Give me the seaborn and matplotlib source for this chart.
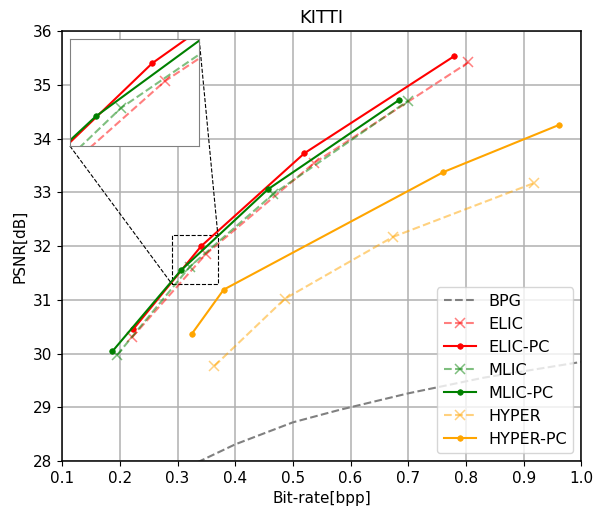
import matplotlib
matplotlib.use("Agg")
import matplotlib.pyplot as plt
import seaborn as sns
from mpl_toolkits.axes_grid1.inset_locator import mark_inset

# Rate-distortion results on KITTI (bpp, PSNR in dB)
bpg_bpp = [0.30, 0.40, 0.50, 0.58, 0.70, 0.83, 1.02]
bpg_psnr = [27.80, 28.31, 28.72, 28.95, 29.26, 29.55, 29.88]

elic_bpp = [0.221, 0.349, 0.537, 0.804]
elic_psnr = [30.30, 31.85, 33.55, 35.42]

elic_pc_bpp = [0.223, 0.341, 0.520, 0.780]
elic_pc_psnr = [30.45, 32.00, 33.73, 35.54]

mlic_bpp = [0.195, 0.3215, 0.466, 0.700]
mlic_psnr = [29.97, 31.62, 32.97, 34.71]

mlic_pc_bpp = [0.187, 0.306, 0.457, 0.684]
mlic_pc_psnr = [30.04, 31.55, 33.06, 34.72]

hyper_bpp = [0.364, 0.486, 0.673, 0.918]
hyper_psnr = [29.77, 31.02, 32.17, 33.175]

hyper_pc_bpp = [0.325, 0.380, 0.761, 0.962]
hyper_pc_psnr = [30.37, 31.19, 33.38, 34.26]

x_ticks = [0.1, 0.2, 0.3, 0.4, 0.5, 0.6, 0.7, 0.8, 0.9, 1.0]
y_ticks = [28, 29, 30, 31, 32, 33, 34, 35, 36]


def cross(c):
    return dict(color=c, linestyle="--", marker="x", markersize=7,
                markeredgecolor=c, markeredgewidth=1.1, alpha=0.5)


def dot(c):
    return dict(color=c, linestyle="-", marker="o", markersize=4,
                markeredgecolor=c, markeredgewidth=0.5)


series = [
    ("BPG", bpg_bpp, bpg_psnr, dict(color="gray", linestyle="--")),
    ("ELIC", elic_bpp, elic_psnr, cross("red")),
    ("ELIC-PC", elic_pc_bpp, elic_pc_psnr, dot("red")),
    ("MLIC", mlic_bpp, mlic_psnr, cross("green")),
    ("MLIC-PC", mlic_pc_bpp, mlic_pc_psnr, dot("green")),
    ("HYPER", hyper_bpp, hyper_psnr, cross("orange")),
    ("HYPER-PC", hyper_pc_bpp, hyper_pc_psnr, dot("orange")),
]

plt.rcParams.update({
    "xtick.labelsize": 11,
    "ytick.labelsize": 11,
    "axes.labelsize": 11,
    "axes.titlesize": 13,
    "legend.fontsize": 11.5,
})

fig = plt.figure(figsize=(5.95, 5.07), dpi=100)
ax = fig.add_axes([0.1044, 0.0907, 0.8727, 0.8476])


def draw(axis, with_labels):
    for name, xs, ys, style in series:
        sns.lineplot(x=xs, y=ys, ax=axis, sort=False, linewidth=1.5,
                     label=name if with_labels else None, **style)


draw(ax, True)

ax.set_xlim(0.1, 1.0)
ax.set_ylim(28, 36)
ax.set_xticks(x_ticks)
ax.set_yticks(y_ticks)
ax.set_xticklabels([f"{v:.1f}" for v in x_ticks])
ax.set_yticklabels([str(v) for v in y_ticks])
ax.grid(True, color="#b0b0b0", linewidth=1.1)
ax.set_axisbelow(True)
for sp in ax.spines.values():
    sp.set_linewidth(1.1)
ax.set_xlabel("Bit-rate[bpp]")
ax.set_ylabel("PSNR[dB]")
ax.set_title("KITTI")
ax.legend(loc="lower right")

# zoomed view of the mid-rate crossing
axins = ax.inset_axes([0.015, 0.733, 0.249, 0.248])
draw(axins, False)
axins.set_xlim(0.29, 0.37)
axins.set_ylim(31.3, 32.2)
axins.set_xticks([])
axins.set_yticks([])
axins.set_xlabel("")
axins.set_ylabel("")
for sp in axins.spines.values():
    sp.set_edgecolor("gray")
mark_inset(ax, axins, loc1=3, loc2=1, fc="none", ec="black", linestyle="--", linewidth=0.8)

fig.savefig("out.png", dpi=100)
